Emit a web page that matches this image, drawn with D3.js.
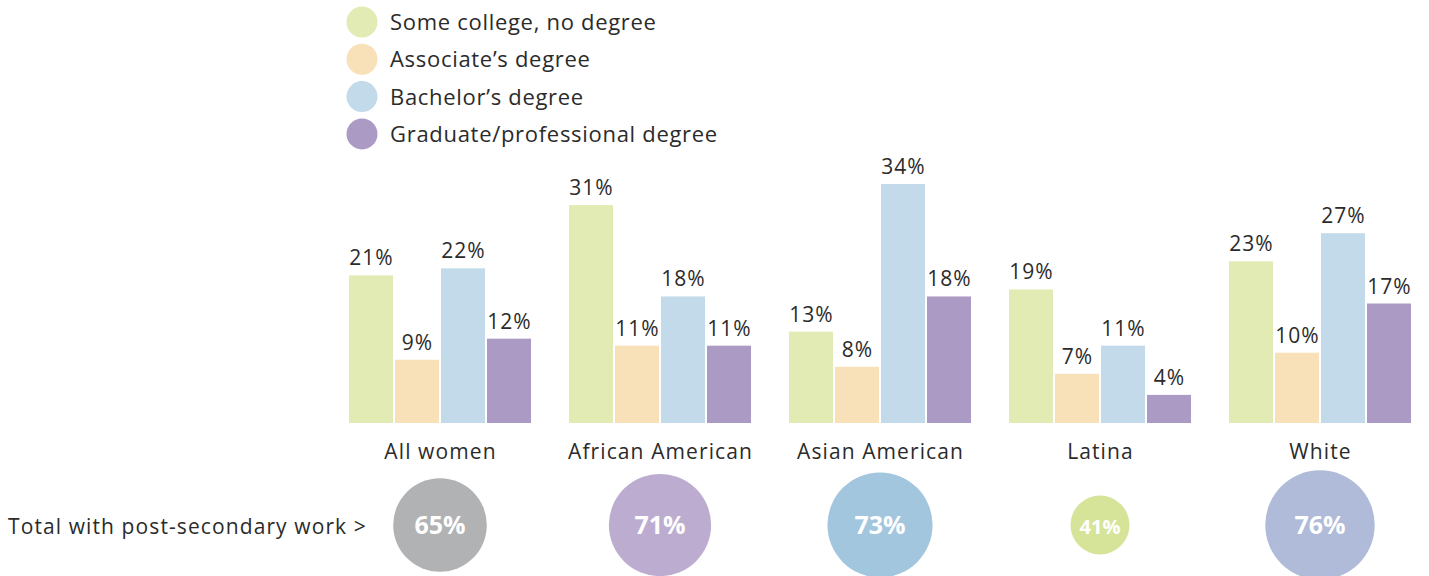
<!DOCTYPE html>
<html><head><meta charset="utf-8">
<script src="https://cdn.jsdelivr.net/npm/d3@7"></script>
<style>body{margin:0;background:#fff;} text{font-family:"Open Sans",Lato,sans-serif;}</style>
</head><body>
<svg id="c" width="1429" height="576"></svg>
<script>
const categories = ["All women","African American","Asian American","Latina","White"];
const seriesNames = ["Some college, no degree","Associate\u2019s degree","Bachelor\u2019s degree","Graduate/professional degree"];
const someCollege = [21,31,13,19,23];
const associate = [9,11,8,7,10];
const bachelor = [22,18,34,11,27];
const graduate = [12,11,18,4,17];
const totals = [65,71,73,41,76];
const seriesColors = ["#e2ebb4","#f8e1b8","#c2dae9","#ab9ac3"];
const totalColors = ["#b1b2b4","#bcadd0","#a3c6df","#d6e49a","#afbbd8"];
const totalLabel = "Total with post-secondary work >";

const series = [someCollege, associate, bachelor, graduate];
const svg = d3.select("#c");
const ink = "#2b2b2b";

const x0 = d3.scaleBand().domain(categories).range([349,1411]).paddingInner(38/220).paddingOuter(0);
const x1 = d3.scaleBand().domain(d3.range(4)).range([0,x0.bandwidth()]).paddingInner(2/46).paddingOuter(0);
const ymax = d3.max(series.flat());
const y = d3.scaleLinear().domain([0,ymax]).range([423,184]);
const r = d3.scaleLinear().domain([0,100]).range([0,72]);

// legend
const leg = svg.append("g");
seriesNames.forEach((n,i)=>{
  const g = leg.append("g").attr("transform",`translate(362,${22+i*37.3})`);
  g.append("circle").attr("r",15.5).attr("fill",seriesColors[i]);
  g.append("text").attr("x",28).attr("y",8).attr("font-size",22).attr("letter-spacing",0.7).attr("fill",ink).text(n);
});

// bars
const groups = svg.selectAll("g.grp").data(categories).join("g").attr("class","grp")
  .attr("transform",d=>`translate(${x0(d)},0)`);
groups.each(function(cat,ci){
  const g = d3.select(this);
  series.forEach((s,si)=>{
    g.append("rect").attr("x",x1(si)).attr("width",x1.bandwidth())
      .attr("y",y(s[ci])).attr("height",y(0)-y(s[ci])).attr("fill",seriesColors[si]);
    g.append("text").attr("x",x1(si)+x1.bandwidth()/2+0.5).attr("y",y(s[ci])-10)
      .attr("text-anchor","middle").attr("font-size",21).attr("letter-spacing",1.1).attr("fill",ink).text(s[ci]+"%");
  });
  g.append("text").attr("x",x0.bandwidth()/2+0.5).attr("y",459).attr("text-anchor","middle")
    .attr("font-size",21).attr("letter-spacing",1.1).attr("fill",ink).text(cat);
  const cx = x0.bandwidth()/2;
  g.append("circle").attr("cx",cx).attr("cy",525).attr("r",r(totals[ci])).attr("fill",totalColors[ci]);
  g.append("text").attr("x",cx).attr("y",534).attr("text-anchor","middle")
    .attr("font-size",totals[ci]<50?20:25).attr("font-weight","bold").attr("fill","#fff").text(totals[ci]+"%");
});

svg.append("text").attr("x",8).attr("y",534).attr("font-size",21).attr("letter-spacing",1.1).attr("fill",ink).text(totalLabel);
</script>
</body></html>
